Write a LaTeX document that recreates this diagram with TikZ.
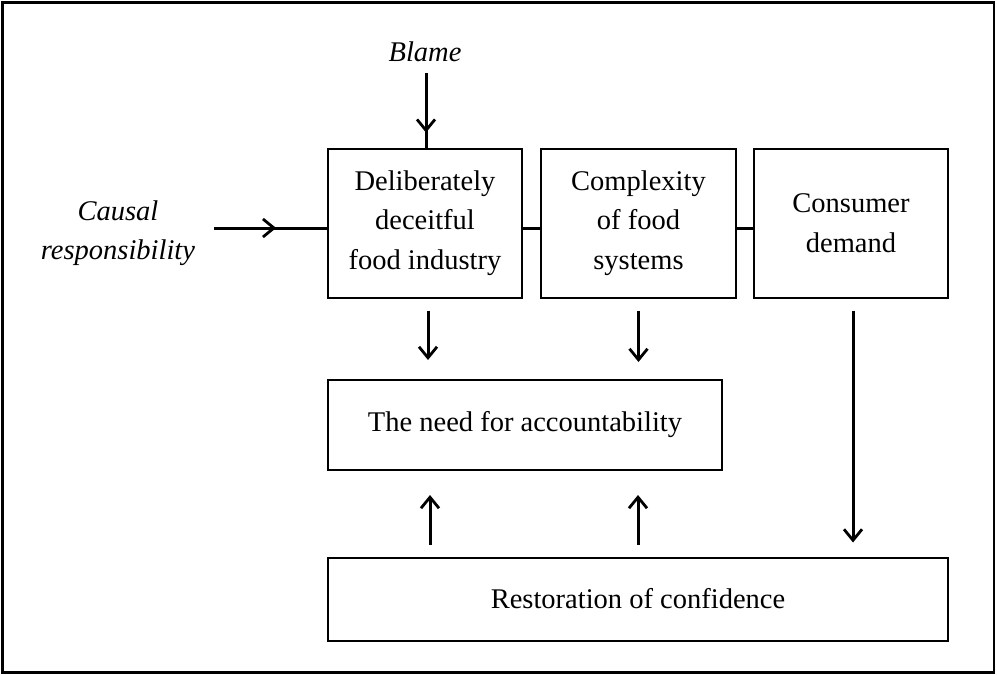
\documentclass[tikz,border=0pt]{standalone}
\usepackage{fontspec}
\setmainfont{Liberation Serif}
\usetikzlibrary{arrows.meta,decorations.markings,calc}
\tikzset{
  box/.style={draw,line width=2pt,align=center,inner sep=0pt,
    font=\fontsize{28.5pt}{39.5pt}\selectfont},
  lbl/.style={align=center,inner sep=0pt,font=\fontsize{28.5pt}{39.5pt}\selectfont\itshape},
  arr/.style={line width=3pt,-{Straight Barb[length=11pt,width=18pt,line width=2.8pt]}},
  link/.style={line width=3pt},
  midarr/.style={line width=3pt,postaction={decorate},
    decoration={markings,mark=at position #1 with {\arrow{Straight Barb[length=11pt,width=18pt,line width=2.8pt]}}}}
}
\begin{document}
\begin{tikzpicture}[x=1pt,y=-1pt]
\useasboundingbox (0,0) rectangle (997,675);
\draw[line width=2.2pt] (2.5,2.5) rectangle (994,672.5);
% boxes
\node[box,minimum width=194pt,minimum height=149pt] (b1) at (425,223) {Deliberately\\deceitful\\food industry};
\node[box,minimum width=195pt,minimum height=149pt] (b2) at (638.5,223) {Complexity\\of food\\systems};
\node[box,minimum width=194pt,minimum height=149pt] (b3) at (851,223) {Consumer\\demand};
\node[box,minimum width=394pt,minimum height=90pt] (need) at (525,425) {The need for accountability};
\node[box,minimum width=620pt,minimum height=83pt] (rest) at (638,599) {Restoration of confidence};
% labels
\node[lbl] (blame) at (425,52) {Blame};
\node[lbl] (causal) at (118,233) {Causal\\responsibility};
\coordinate (bs) at (426,73);
\coordinate (cs) at (214,228);
% inputs
\draw[midarr=0.8] (bs) -- (bs |- b1.north);
\draw[midarr=0.55] (cs) -- ([yshift=-5pt]b1.west);
% links between top boxes
\draw[link] ([yshift=-5pt]b1.east) -- ([yshift=-5pt]b2.west);
\draw[link] ([yshift=-5pt]b2.east) -- ([yshift=-5pt]b3.west);
% down arrows
\draw[arr,shorten <=12pt,shorten >=19pt] ([xshift=3pt]b1.south) -- ([xshift=3pt]b1.south |- need.north);
\draw[arr,shorten <=12pt,shorten >=17pt] (b2.south) -- (b2.south |- need.north);
\draw[arr,shorten <=12pt,shorten >=14pt] ([xshift=2pt]b3.south) -- ([xshift=2pt]b3.south |- rest.north);
% up arrows
\draw[arr,shorten <=12pt,shorten >=24pt] (430,0 |- rest.north) -- (430,0 |- need.south);
\draw[arr,shorten <=12pt,shorten >=24pt] (638,0 |- rest.north) -- (638,0 |- need.south);
\end{tikzpicture}
\end{document}
